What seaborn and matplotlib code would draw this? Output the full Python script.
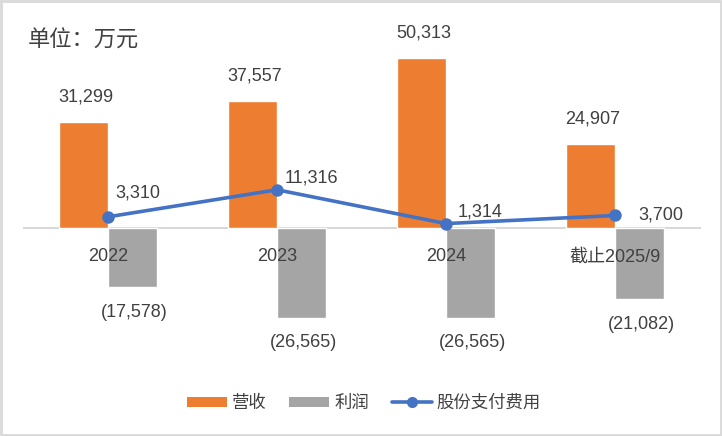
import matplotlib
matplotlib.use("Agg")
import matplotlib.pyplot as plt
import seaborn as sns
import pandas as pd
from matplotlib.patches import Patch, Rectangle
from matplotlib.lines import Line2D

categories = ["2022", "2023", "2024", "截止2025/9"]
revenue = [31299, 37557, 50313, 24907]
profit = [-17578, -26565, -26565, -21082]
share_comp = [3310, 11316, 1314, 3700]
series_names = ["营收", "利润", "股份支付费用"]

ORANGE = "#ED7D31"
GRAY = "#A5A5A5"
BLUE = "#4472C4"
TXT = "#404040"

sns.set_theme(style="white")
plt.rcParams["font.family"] = ["Liberation Sans", "Noto Sans CJK SC", "DejaVu Sans"]

df = pd.DataFrame({
    "cat": categories * 2,
    "series": [series_names[0]] * 4 + [series_names[1]] * 4,
    "value": revenue + profit,
})

fig = plt.figure(figsize=(7.22, 4.36), dpi=100)
ax = fig.add_axes([23.5 / 722, 1 - 330 / 436, 676 / 722, 300 / 436])

sns.barplot(data=df, x="cat", y="value", hue="series", hue_order=series_names[:2],
            palette=[ORANGE, GRAY], width=0.58, saturation=1, legend=False, ax=ax,
            order=categories)
sns.pointplot(x=categories, y=share_comp, color=BLUE, markers="o", linewidth=2.6,
              markersize=7, errorbar=None, ax=ax, order=categories)

ax.set_xlim(-0.5, 3.5)
ax.set_ylim(-(330 - 228) * 296, (228 - 30) * 296)

def fmt(v):
    return f"({abs(v):,})" if v < 0 else f"{v:,}"

# bar labels
bars = [p for p in ax.patches if p.get_height() != 0]
for p in bars:
    h = p.get_height()
    xc = p.get_x() + p.get_width() / 2
    off = 18 if h > 0 else -18
    ax.annotate(fmt(int(round(h))), xy=(xc, h), xytext=(1.5, off), textcoords="offset points",
                ha="center", va="center", fontsize=13, color=TXT)

# line labels
line_offsets = [(21.6, 17.3), (24.5, 8.6), (24.5, 8.6), (33, 0)]
for i, v in enumerate(share_comp):
    ax.annotate(fmt(v), xy=(i, v), xytext=line_offsets[i], textcoords="offset points",
                ha="center", va="center", fontsize=13, color=TXT)

for s in ["top", "right", "left"]:
    ax.spines[s].set_visible(False)
ax.spines["bottom"].set_position(("data", 0))
ax.spines["bottom"].set_color("#D9D9D9")
ax.spines["bottom"].set_linewidth(1.5)
ax.spines["bottom"].set_zorder(0.5)
ax.set_yticks([])
ax.set_xlabel("")
ax.set_ylabel("")
ax.tick_params(axis="x", length=0, pad=14.5, labelsize=13, labelcolor=TXT)
ax.xaxis.set_zorder(5)
ax.patch.set_alpha(0)

fig.text(28 / 722, 1 - 41 / 436, "单位：万元", fontsize=16, color=TXT, ha="left", va="center")

handles = [
    Patch(facecolor=ORANGE, edgecolor="none", label=series_names[0]),
    Patch(facecolor=GRAY, edgecolor="none", label=series_names[1]),
    Line2D([0], [0], color=BLUE, lw=2.6, marker="o", markersize=7, label=series_names[2]),
]
fig.legend(handles=handles, loc="center", bbox_to_anchor=(364 / 722, 1 - 403 / 436), ncol=3,
           frameon=False, fontsize=12.5, handlelength=2.3, handleheight=0.55,
           handletextpad=0.3, columnspacing=1.3, labelcolor=TXT, numpoints=1)

fig.patches.append(Rectangle((0.0015, 0.0025), 0.997, 0.995, transform=fig.transFigure,
                             fill=False, edgecolor="#D9D9D9", linewidth=2))

fig.savefig("out.png", dpi=100, facecolor="white")
